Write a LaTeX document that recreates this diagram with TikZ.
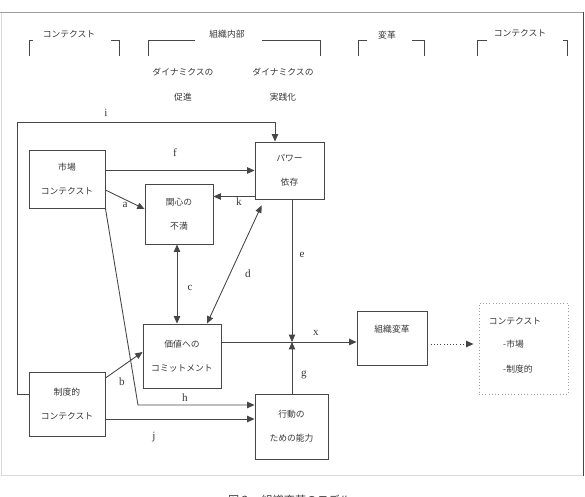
\documentclass[tikz,border=0pt]{standalone}
\usepackage{fontspec}
\setmainfont{Liberation Serif}
\newfontfamily\jpfont{Noto Sans CJK JP}
\usetikzlibrary{arrows.meta}
\definecolor{linegray}{RGB}{70,70,70}
\definecolor{textgray}{RGB}{55,55,55}
\definecolor{framegray}{RGB}{160,160,160}
\definecolor{edgegray}{RGB}{218,218,218}

\begin{document}
\begin{tikzpicture}[x=0.03cm, y=-0.03cm, >={Triangle[length=2.2mm, width=1.9mm]},
        box/.style={draw=linegray, line width=0.75pt, inner sep=0pt, align=center, text=textgray,
                    font=\jpfont\fontsize{7.5}{20.4}\selectfont},
        jp/.style={font=\jpfont\fontsize{7.5}{9}\selectfont, text=textgray, inner sep=0pt},
        lab/.style={font=\fontsize{9.5}{10}\selectfont, text=textgray, inner sep=0pt},
        conn/.style={draw=linegray, line width=0.75pt},
        bracket/.style={draw=linegray, line width=0.75pt}]

    \path[use as bounding box, clip] (0,0) rectangle (585,496);

    % --- 枠 ---
    \draw[edgegray, line width=0.8pt] (1,12) -- (1,475) -- (583,475);
    \draw[framegray, line width=0.8pt] (0,12) -- (583,12);
    \draw[linegray, line width=0.8pt] (583,12) -- (583,476);

    % --- 見出し ---
    \node[jp] (h1) at (69,34)  {コンテクスト};
    \node[jp] (h2) at (227,34) {組織内部};
    \node[jp] (h3) at (387,35) {変革};
    \node[jp] (h4) at (520,33) {コンテクスト};
    \draw[bracket] (33,40) -- (29,40) -- (29,56);
    \draw[bracket] (111,40) -- (119,40) -- (119,56);
    \draw[bracket] (195,40) -- (148,40) -- (148,56);
    \draw[bracket] (262,40) -- (320,40) -- (320,56);
    \draw[bracket] (367,40) -- (358,40) -- (358,56);
    \draw[bracket] (412,40) -- (424,40) -- (424,56);
    \draw[bracket] (487,40) -- (477,40) -- (477,56);
    \draw[bracket] (563,40) -- (567,40) -- (567,56);
    \node[jp] (s1) at (183,72) {ダイナミクスの};
    \node[jp] (s2) at (183,97) {促進};
    \node[jp] (s3) at (283,72) {ダイナミクスの};
    \node[jp] (s4) at (283,97) {実践化};

    % --- ボックス ---
    \node[box, minimum width=2.28cm, minimum height=1.74cm] (mkt) at (67,179)    {市場\\コンテクスト};
    \node[box, minimum width=2.04cm, minimum height=1.80cm] (dis) at (179,214)   {関心の\\不満};
    \node[box, minimum width=2.07cm, minimum height=1.71cm] (pow) at (289.5,170.5) {パワー\\依存};
    \node[box, minimum width=2.34cm, minimum height=1.92cm] (val) at (182,356)   {価値への\\コミットメント};
    \node[box, minimum width=2.28cm, minimum height=1.92cm] (ins) at (67,404)    {制度的\\コンテクスト};
    \node[box, minimum width=2.19cm, minimum height=1.95cm] (cap) at (291.5,426.5) {行動の\\ための能力};
    \node[box, minimum width=2.10cm, minimum height=1.62cm] (chg) at (392,338)   {};
    \node[jp] (chgt) at (392,329) {組織変革};
    \node[box, draw=framegray, dotted, minimum width=2.67cm, minimum height=2.73cm] (out) at (523.5,348.5) {};
    \node[jp] (out1) at (515,321) {コンテクスト};
    \node[jp, anchor=west] (out2) at (503,344) {-市場};
    \node[jp, anchor=west] (out3) at (503,369) {-制度的};

    % --- 補助点 ---
    \coordinate (jn) at (292,342);
    \coordinate (i0) at ([yshift=0.3cm]ins.west);
    \coordinate (i1) at (17,122);
    \coordinate (i2) at (275,122);
    \coordinate (k0) at ([yshift=-0.78cm]pow.west);
    \coordinate (hb) at (138,405);
    \coordinate (j0) at ([yshift=-0.45cm]ins.east);
    \coordinate (x0) at ([yshift=0.42cm]val.east);

    % --- 矢印 ---
    \draw[conn, ->] (i0) -- (i0 -| i1) -- (i1) -- (i2) -- (i2 |- pow.north);
    \draw[conn, ->] (mkt.east |- pow.west) -- (pow.west);
    \draw[conn, ->] ([yshift=-0.33cm]mkt.east) -- ([yshift=0.15cm]dis.west);
    \draw[conn, ->] (k0) -- (k0 -| dis.east);
    \draw[conn, <->] ([xshift=-0.06cm]dis.south) -- ([xshift=-0.06cm]dis.south |- val.north);
    \draw[conn, <->] ([xshift=0.75cm]val.north) -- ([xshift=0.21cm, yshift=-0.18cm]pow.south west);
    \draw[conn, ->] (jn |- pow.south) -- (jn);
    \draw[conn, ->] (jn |- cap.north) -- (jn);
    \draw[conn, ->] (x0) -- (x0 -| chg.west);
    \draw[conn, ->, dotted, shorten >=1.5mm] ([yshift=-0.18cm]chg.east) -- ([yshift=-0.18cm]chg.east -| out.west);
    \draw[conn, ->] ([yshift=0.78cm]ins.east) -- ([yshift=0.12cm]val.west);
    \draw[conn, ->] (mkt.south east) -- (hb) -- (hb -| cap.west);
    \draw[conn, ->] (j0) -- (j0 -| cap.west);

    % --- ラベル ---
    \node[lab] (li) at (106,113) {i};
    \node[lab] (lf) at (175,153) {f};
    \node[lab] (la) at (125,205) {a};
    \node[lab] (lk) at (239,202) {k};
    \node[lab] (lc) at (190,288) {c};
    \node[lab] (ld) at (248,274) {d};
    \node[lab] (le) at (302,255) {e};
    \node[lab] (lx) at (316,333) {x};
    \node[lab] (lg) at (304,375) {g};
    \node[lab] (lb) at (122,382) {b};
    \node[lab] (lh) at (185,398) {h};
    \node[lab] (lj) at (154,437) {j};

    % --- 図題 ---
    \node[jp, font=\jpfont\fontsize{9.5}{11}\selectfont, anchor=west] (cap0) at (228,500) {図２\quad 組織変革のモデル};

\end{tikzpicture}
\end{document}
